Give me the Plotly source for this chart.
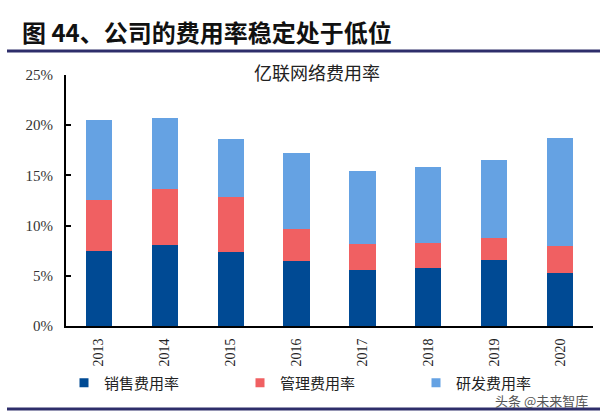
import plotly.graph_objects as go

# chart data (values in %)
years = ['2013', '2014', '2015', '2016', '2017', '2018', '2019', '2020']
sales_rate = [7.5, 8.1, 7.4, 6.5, 5.6, 5.8, 6.55, 5.25]
admin_rate = [5.1, 5.5, 5.4, 3.2, 2.6, 2.45, 2.25, 2.75]
rd_rate = [7.9, 7.1, 5.8, 7.5, 7.2, 7.6, 7.7, 10.75]

series = ['销售费用率', '管理费用率', '研发费用率']
colors = ['#004A94', '#F06062', '#65A2E3']

W, H = 600, 412
L, R, T, B = 66, 7, 75, 86
pw, ph = W - L - R, H - T - B

def px_x(x):
    return (x - L) / pw

def px_y(y):
    return (H - B - y) / ph

fig = go.Figure()

for name, vals, col in zip(series, [sales_rate, admin_rate, rd_rate], colors):
    fig.add_trace(go.Bar(x=years, y=vals, name=name, marker_color=col,
                         marker_line_width=0, showlegend=False))
    # small square legend markers
    fig.add_trace(go.Scatter(x=[None], y=[None], mode='markers', name=name,
                             marker=dict(symbol='square', size=9, color=col)))

cjk = 'Noto Sans CJK SC'
serif = 'Liberation Serif'

fig.update_layout(
    width=W, height=H,
    margin=dict(l=L, r=R, t=T, b=B, autoexpand=False),
    paper_bgcolor='white', plot_bgcolor='white',
    barmode='stack', bargap=0.6,
    showlegend=True,
    legend=dict(orientation='h', x=px_x(64), y=px_y(383), xanchor='left', yanchor='middle',
                entrywidth=131, entrywidthmode='pixels', traceorder='normal',
                font=dict(family=cjk, size=15, color='#222222'),
                bgcolor='rgba(0,0,0,0)'),
    xaxis=dict(type='category', tickangle=-90, showline=True, linecolor='black', linewidth=2,
               ticks='', ticklabelstandoff=5, automargin=False,
               tickfont=dict(family=serif, size=14, color='#222222'), showgrid=False),
    yaxis=dict(range=[0, 25], dtick=5, ticksuffix='%', showline=True, linecolor='black',
               linewidth=2, ticks='inside', ticklen=5, tickwidth=1.5, tickcolor='black',
               tickfont=dict(family=serif, size=15, color='#333333'), showgrid=False,
               zeroline=False, ticklabelstandoff=8, automargin=False),
)

# header title and rules
fig.add_annotation(text='<b>图 44、公司的费用率稳定处于低位</b>', xref='paper', yref='paper',
                   x=px_x(20), y=px_y(32), xanchor='left', yanchor='middle', showarrow=False,
                   font=dict(family=cjk, size=24, color='#111111'))
fig.add_shape(type='line', xref='paper', yref='paper', x0=px_x(7), x1=px_x(600),
              y0=px_y(51), y1=px_y(51), line=dict(color='#2E2E6B', width=3))
fig.add_shape(type='line', xref='paper', yref='paper', x0=px_x(7), x1=px_x(600),
              y0=px_y(409), y1=px_y(409), line=dict(color='#2E2E6B', width=3))

# chart subtitle
fig.add_annotation(text='亿联网络费用率', xref='paper', yref='paper',
                   x=px_x(317), y=px_y(72), xanchor='center', yanchor='middle', showarrow=False,
                   font=dict(family=cjk, size=18, color='#222222'))

# watermark
fig.add_annotation(text='头条 @未来智库', xref='paper', yref='paper',
                   x=px_x(590), y=px_y(400), xanchor='right', yanchor='middle', showarrow=False,
                   font=dict(family=cjk, size=13, color='#555555'))

# drop the default page margin so the figure sits at the window corner
fig.write_html('out.html', config={'displayModeBar': False},
               post_script="document.body.style.margin='0';")
